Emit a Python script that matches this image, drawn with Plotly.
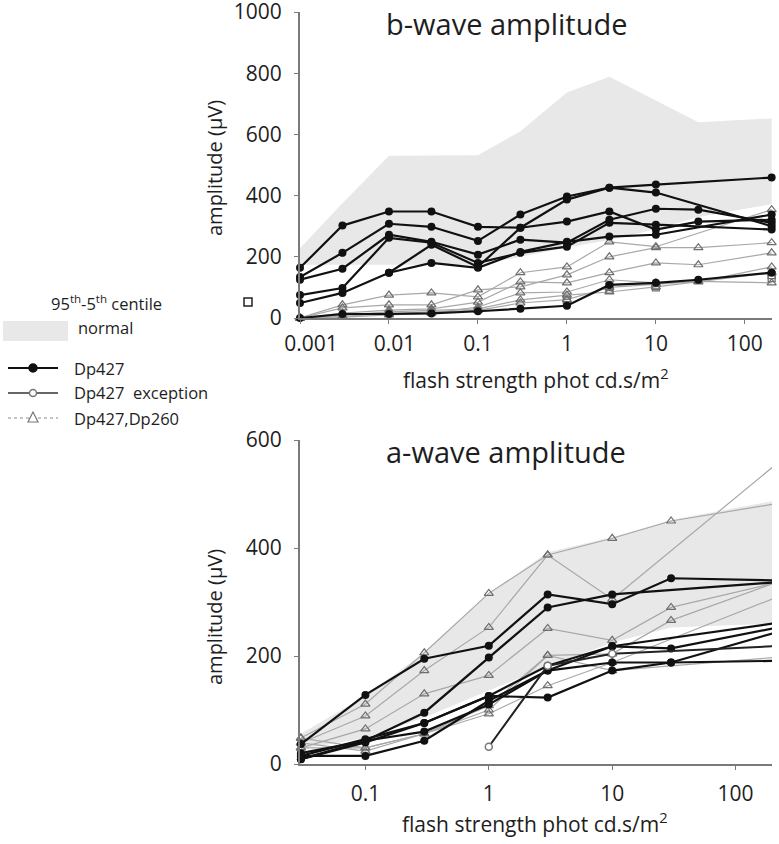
import plotly.graph_objects as go

# ---------------- data: b-wave (top) ----------------
b_x = [0.001, 0.003, 0.01, 0.03, 0.1, 0.3, 1, 3, 10, 30, 200]
b_norm_upper = [228, 375, 530, 530, 532, 610, 737, 788, 712, 640, 652]
b_norm_lower = [174, 174, 174, 174, 174, 200, 230, 255, 290, 330, 372]

b_dp427 = [
    [164, 302, 348, 348, 298, 295, 315, 348, 289, 315, 321],
    [134, 213, 308, 298, 252, 338, 397, 426, 436, None, 459],
    [125, 161, 272, 249, 207, 256, 246, 321, 357, 354, 311],
    [75, 98, 262, 246, 180, 213, 233, 311, 305, None, 289],
    [49, 82, 148, 180, 164, 216, 249, 266, 272, None, 338],
    [None, None, 148, 239, 167, 295, 387, 426, 410, None, 300],
    [0, 13, 13, 15, 22, 30, 40, 108, 115, 125, 148],
]
b_squares = [
    [None, None, None, None, None, None, 60, 102, 105, None, 140],
    [None, None, None, None, None, None, 50, 92, 100, None, 130],
]
b_dp260 = [
    [0, 43, 75, 82, 69, 148, 167, 249, 233, None, 354],
    [0, 33, 43, 43, 92, 102, 141, 200, 230, 230, 246],
    [0, 16, 26, 30, 52, 118, 115, 148, 180, 174, 213],
    [0, 3, 10, 16, 36, 82, 85, 125, 115, 118, 167],
    [0, 10, 20, 25, 30, 59, 75, 85, 102, None, 148],
    [0, 5, 15, 20, 25, 49, 60, 100, 110, 120, 115],
]

# ---------------- data: a-wave (bottom) ----------------
a_x = [0.03, 0.1, 0.3, 1, 3, 10, 30, 200]
a_norm_upper = [56, 126, 206, 316, 392, 420, 452, 487]
a_norm_lower = [28, 48, 86, 136, 180, 225, 253, 260]

a_dp427 = [
    [37, 128, 195, 219, 314, 296, 344, 340],
    [9, 43, 95, 197, 290, 314, None, 336],
    [15, 46, 76, 126, 182, 218, None, 260],
    [15, 15, 43, 117, 173, 218, 214, 251],
    [9, 40, 76, 126, 123, 173, 188, 242],
    [20, 43, 60, 110, 173, 188, 188, 191],
]
a_exception = [None, None, None, 32, 182, 204, None, 218]
a_dp260 = [
    [48, 111, 206, 316, 387, 418, 450, 481],
    [39, 89, 173, 253, 387, 305, None, 550],
    [30, 65, 130, 164, 251, 229, 290, 334],
    [30, 30, 56, 108, 201, 204, 266, 334],
    [39, 24, 56, 93, 145, 188, None, 306],
    [48, 30, 56, 100, 201, 173, None, 197],
]

NB = "\u00a0"
b_xticks = [0.001, 0.01, 0.1, 1, 10, 100]
b_xticklabels = [NB * 4 + "0.001", NB * 2 + "0.01", "0.1", "1", "10", "100"]
a_xticks = [0.1, 1, 10, 100]
a_xticklabels = ["0.1", "1", "10", "100"]

# body margin is removed by the post script, so figure pixels == window pixels
W, H = 779, 844
FONT = "Open Sans"
BAND = "#e8e8e8"
TRI_LINE = "#a8a8a8"
TRI_MARK = "#6e6e6e"
TXT = "#1e1e1e"

fig = go.Figure()


def band(xs, up, lo, xa, ya):
    fig.add_trace(go.Scatter(
        x=list(xs) + list(xs[::-1]), y=list(up) + list(lo[::-1]),
        fill="toself", fillcolor=BAND, line=dict(width=0), mode="lines",
        hoverinfo="skip", showlegend=False, xaxis=xa, yaxis=ya))


def tri(xs, ys, xa, ya):
    fig.add_trace(go.Scatter(
        x=xs, y=ys, mode="lines+markers", connectgaps=True, cliponaxis=False,
        line=dict(color=TRI_LINE, width=1.2),
        marker=dict(symbol="triangle-up-open", size=8, color=TRI_MARK, line=dict(width=1.2)),
        showlegend=False, xaxis=xa, yaxis=ya))


def blk(xs, ys, xa, ya):
    fig.add_trace(go.Scatter(
        x=xs, y=ys, mode="lines+markers", connectgaps=True, cliponaxis=False,
        line=dict(color="#111111", width=2.2),
        marker=dict(symbol="circle", size=8, color="#111111"),
        showlegend=False, xaxis=xa, yaxis=ya))


# top
band(b_x, b_norm_upper, b_norm_lower, "x", "y")
for s in b_dp260:
    tri(b_x, s, "x", "y")
for s in b_squares:
    fig.add_trace(go.Scatter(
        x=b_x, y=s, mode="markers", cliponaxis=False,
        marker=dict(symbol="square-open", size=7, color=TRI_MARK, line=dict(width=1.2)),
        showlegend=False, xaxis="x", yaxis="y"))
for s in b_dp427:
    blk(b_x, s, "x", "y")

# bottom
band(a_x, a_norm_upper, a_norm_lower, "x2", "y2")
for s in a_dp260:
    tri(a_x, s, "x2", "y2")
for s in a_dp427:
    blk(a_x, s, "x2", "y2")
fig.add_trace(go.Scatter(
    x=a_x, y=a_exception, mode="lines+markers", connectgaps=True, cliponaxis=False,
    line=dict(color="#222222", width=2),
    marker=dict(symbol="circle", size=7, color="white", line=dict(color="#777777", width=1.5)),
    showlegend=False, xaxis="x2", yaxis="y2"))


def fx(x):
    return x / W


def fy(y):
    return 1 - y / H


axis_common = dict(showgrid=False, zeroline=False, showline=True, linecolor="#7a7a7a",
                   linewidth=2, ticks="outside", ticklen=4, tickcolor="#7a7a7a",
                   automargin=False, ticklabeloverflow="allow",
                   tickfont=dict(family=FONT, size=21, color=TXT))

fig.update_layout(
    template="none",
    width=W, height=H, margin=dict(l=0, r=0, t=0, b=0, pad=0, autoexpand=False),
    paper_bgcolor="white", plot_bgcolor="white",
    font=dict(family=FONT, color=TXT),
    xaxis=dict(type="log", range=[-3, 2.305], domain=[fx(300), fx(772)], anchor="y",
               tickvals=b_xticks, ticktext=b_xticklabels, ticklabelstandoff=2, **axis_common),
    yaxis=dict(range=[0, 1000], domain=[fy(318), fy(12)], anchor="x",
               tickvals=[0, 200, 400, 600, 800, 1000], ticklabelstandoff=8, **axis_common),
    xaxis2=dict(type="log", range=[-1.53, 2.295], domain=[fx(300), fx(772)], anchor="y2",
                tickvals=a_xticks, ticktext=a_xticklabels, ticklabelstandoff=6, **axis_common),
    yaxis2=dict(range=[0, 600], domain=[fy(764), fy(440)], anchor="x2",
                tickvals=[0, 200, 400, 600], ticklabelstandoff=8, **axis_common),
)


def px(x, y):
    return fx(x), fy(y)


def text(x, y, s, size, xanchor="center", angle=0):
    ax, ay = px(x, y)
    fig.add_annotation(x=ax, y=ay, xref="paper", yref="paper", text=s, showarrow=False,
                       xanchor=xanchor, yanchor="middle", textangle=angle,
                       font=dict(family=FONT, size=size, color=TXT))


text(506, 24, "b-wave amplitude", 29)
text(506, 451, "a-wave amplitude", 29)
text(536, 378, "flash strength phot cd.s/m<sup>2</sup>", 21)
text(535, 822, "flash strength phot cd.s/m<sup>2</sup>", 21)
text(214, 168, "amplitude (µV)", 20, angle=-90)
text(214, 617, "amplitude (µV)", 20, angle=-90)

# manual legend
text(106, 303, "95<sup>th</sup>-5<sup>th</sup> centile", 16.5)
text(105, 327, "normal", 16.5)
x0, y0 = px(3, 341)
x1, y1 = px(68, 321)
fig.add_shape(type="rect", xref="paper", yref="paper", x0=x0, y0=y0, x1=x1, y1=y1,
              fillcolor=BAND, line=dict(width=0))


def hline(y, color, width, dash="solid"):
    a0, b0 = px(8, y)
    a1, _ = px(58, y)
    fig.add_shape(type="line", xref="paper", yref="paper", x0=a0, y0=b0, x1=a1, y1=b0,
                  line=dict(color=color, width=width, dash=dash))


def circ(cx, cy, r, fill, color):
    a0, b0 = px(cx - r, cy + r)
    a1, b1 = px(cx + r, cy - r)
    fig.add_shape(type="circle", xref="paper", yref="paper", x0=a0, y0=b0, x1=a1, y1=b1,
                  fillcolor=fill, line=dict(color=color, width=1.5))


hline(368, "#111111", 2)
circ(33, 368, 4, "#111111", "#111111")
text(72, 368, "Dp427", 16.5, xanchor="left")

hline(393, "#666666", 2)
circ(33, 393, 3.5, "white", "#777777")
text(72, 393, "Dp427  exception", 16.5, xanchor="left")

hline(418, "#888888", 1, dash="dot")
pa = px(33, 412)
pb = px(28, 422)
pc = px(38, 422)
fig.add_shape(type="path", xref="paper", yref="paper",
              path=f"M {pa[0]} {pa[1]} L {pb[0]} {pb[1]} L {pc[0]} {pc[1]} Z",
              fillcolor="white", line=dict(color="#777777", width=1.2))
text(72, 418, "Dp427,Dp260", 16.5, xanchor="left")

# stray open square next to the top chart
s0 = px(244, 306)
s1 = px(252, 298)
fig.add_shape(type="rect", xref="paper", yref="paper", x0=s0[0], y0=s0[1], x1=s1[0], y1=s1[1],
              fillcolor="white", line=dict(color="#222222", width=1.5))

fig.write_html(
    "out.html",
    config={"displayModeBar": False},
    post_script="document.body.style.margin='0px';document.body.style.overflow='hidden';",
)
